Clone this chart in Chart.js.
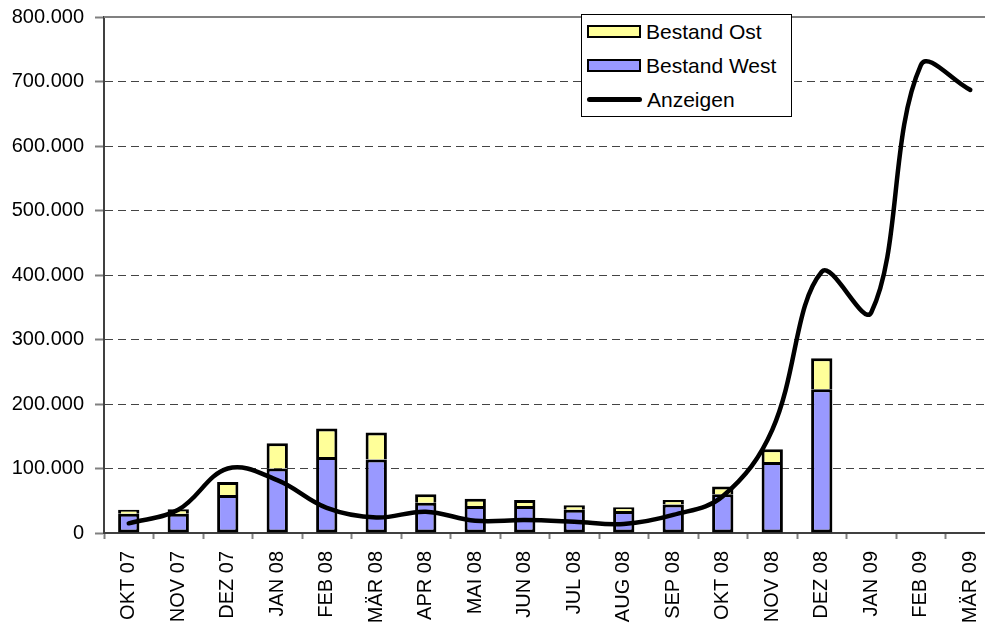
<!DOCTYPE html>
<html>
<head>
<meta charset="utf-8">
<script src="https://cdn.jsdelivr.net/npm/chart.js@4/dist/chart.umd.min.js"></script>
<style>
  body { margin: 0; overflow: hidden; background: #fff; }
  #wrap { position: relative; width: 1000px; height: 625px; }
  #legende {
    position: absolute; left: 581px; top: 14px; width: 209px; height: 101px;
    border: 1px solid #000; background: #fff;
    font-family: "Liberation Sans", Arial, sans-serif; font-size: 21px; color: #000;
  }
  .eintrag { position: absolute; left: 5px; height: 24px; line-height: 24px; white-space: nowrap; }
  .symbol { display: inline-block; vertical-align: middle; width: 50px; height: 9px; border: 2.5px solid #000; margin-right: 5px; position: relative; top: -2px; }
  .linie { display: inline-block; vertical-align: middle; width: 55px; height: 5px; background: #000; border-radius: 2.5px; margin-right: 5px; position: relative; top: -2px; }
</style>
</head>
<body>
<div id="wrap">
  <canvas id="diagramm" width="1000" height="625"></canvas>
  <div id="legende">
    <div class="eintrag" style="top:5px"><span class="symbol" style="background:#FFFF99"></span>Bestand Ost</div>
    <div class="eintrag" style="top:39px"><span class="symbol" style="background:#9999FF"></span>Bestand West</div>
    <div class="eintrag" style="top:73px"><span class="linie"></span>Anzeigen</div>
  </div>
</div>
<script>
// Monate (Kategorien)
const monate = [
  'OKT 07', 'NOV 07', 'DEZ 07', 'JAN 08', 'FEB 08', 'MÄR 08',
  'APR 08', 'MAI 08', 'JUN 08', 'JUL 08', 'AUG 08', 'SEP 08',
  'OKT 08', 'NOV 08', 'DEZ 08', 'JAN 09', 'FEB 09', 'MÄR 09'
];

// Bestand West (unterer Teil der Säule)
const bestandWest = [30000, 30000, 59000, 100000, 118000, 114000, 47000, 42000, 42000,
  36000, 34000, 44000, 60000, 110000, 223000, null, null, null];

// Bestand Ost (oben drauf gestapelt)
const bestandOst = [6000, 7000, 20000, 39000, 44000, 42000, 13000, 11000, 9000,
  7000, 6000, 7000, 12000, 20000, 48000, null, null, null];

// Anzeigen (Linie)
const anzeigen = [15000, 36000, 100000, 82000, 39000, 24000, 33000, 19000, 20000,
  17500, 14000, 28000, 57000, 160000, 405000, 342000, 725000, 687000];

// Tausenderpunkt wie im Original
function formatZahl(v) {
  return String(v).replace(/\B(?=(\d{3})+(?!\d))/g, '.');
}

const schrift = { family: '"Liberation Sans", Arial, sans-serif', size: 20 };

// obere Rahmenlinie durchgezogen
const rahmenOben = {
  id: 'rahmenOben',
  beforeDatasetsDraw(chart) {
    const { ctx, chartArea } = chart;
    ctx.save();
    ctx.strokeStyle = '#808080';
    ctx.lineWidth = 2;
    ctx.beginPath();
    ctx.moveTo(chartArea.left, chartArea.top);
    ctx.lineTo(chartArea.right, chartArea.top);
    ctx.stroke();
    ctx.restore();
  }
};

const ctx = document.getElementById('diagramm').getContext('2d');
new Chart(ctx, {
  data: {
    labels: monate,
    datasets: [
      {
        type: 'line',
        label: 'Anzeigen',
        data: anzeigen,
        borderColor: '#000',
        borderWidth: 4.5,
        borderCapStyle: 'round',
        pointRadius: 0,
        tension: 0.38,
        fill: false,
        stack: 'linie',
        order: 0
      },
      {
        type: 'bar',
        label: 'Bestand West',
        data: bestandWest,
        backgroundColor: '#9999FF',
        borderColor: '#000',
        borderWidth: 3,
        borderSkipped: false,
        barPercentage: 0.43,
        categoryPercentage: 1,
        stack: 'bestand',
        order: 1
      },
      {
        type: 'bar',
        label: 'Bestand Ost',
        data: bestandOst,
        backgroundColor: '#FFFF99',
        borderColor: '#000',
        borderWidth: 3,
        borderSkipped: 'bottom',
        barPercentage: 0.43,
        categoryPercentage: 1,
        stack: 'bestand',
        order: 1
      }
    ]
  },
  options: {
    responsive: false,
    animation: false,
    layout: { padding: { top: 17, right: 5, left: 0, bottom: 0 } },
    plugins: {
      legend: { display: false },
      tooltip: { enabled: false }
    },
    scales: {
      x: {
        stacked: true,
        offset: true,
        grid: {
          offset: true,
          drawOnChartArea: false,
          drawTicks: true,
          tickLength: 6,
          tickColor: '#808080',
          tickWidth: 2
        },
        border: { color: '#404040', width: 2 },
        ticks: {
          font: schrift,
          color: '#000',
          minRotation: 90,
          maxRotation: 90,
          autoSkip: false,
          padding: 12
        },
        afterFit(scale) {
          scale.height = 92;
          scale.paddingLeft = 0;
          scale.paddingRight = 0;
        }
      },
      y: {
        stacked: true,
        min: 0,
        max: 800000,
        grid: {
          color: ctx => (ctx.tick && (ctx.tick.value === 0 || ctx.tick.value === 800000)) ? 'rgba(0,0,0,0)' : '#444',
          lineWidth: 1,
          tickLength: 9,
          tickColor: '#808080',
          tickWidth: 2,
          tickBorderDash: []
        },
        border: { color: '#404040', width: 2, dash: [8, 5] },
        ticks: {
          stepSize: 100000,
          font: schrift,
          color: '#000',
          padding: 11,
          callback: v => formatZahl(v)
        },
        afterFit(scale) {
          scale.width = 104;
          scale.paddingTop = 0;
          scale.paddingBottom = 0;
        }
      }
    }
  },
  plugins: [rahmenOben]
});
</script>
</body>
</html>
